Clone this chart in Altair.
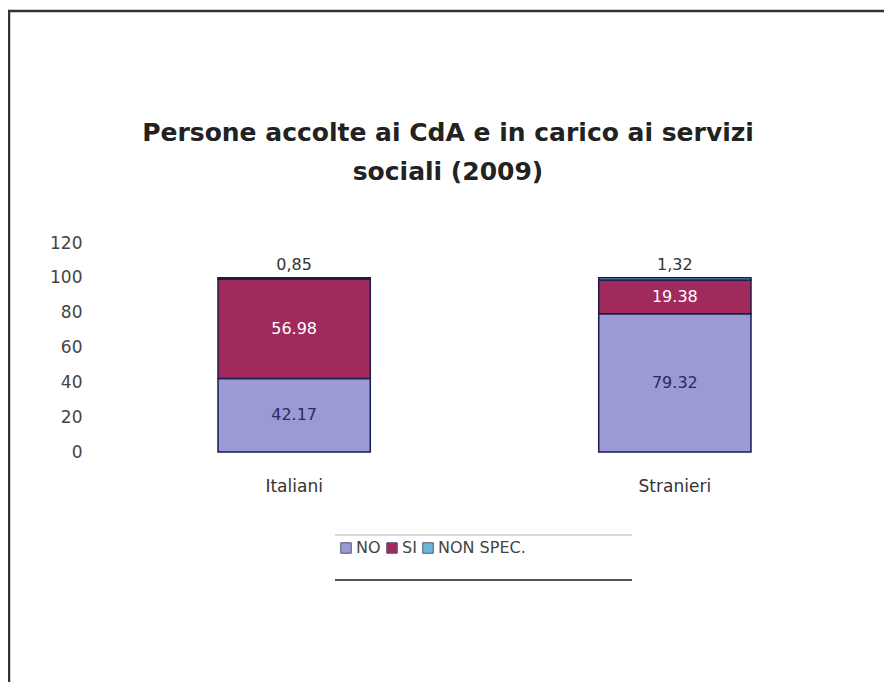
import altair as alt
import pandas as pd

gruppi = ["Italiani", "Italiani", "Italiani", "Stranieri", "Stranieri", "Stranieri"]
categorie = ["NO", "SI", "NON SPEC.", "NO", "SI", "NON SPEC."]
valori = [42.17, 56.98, 0.85, 79.32, 19.38, 1.32]
etichette = ["42.17", "56.98", "0,85", "79.32", "19.38", "1,32"]
ordine = [0, 1, 2, 0, 1, 2]

cat_domain = ["NO", "SI", "NON SPEC."]
cat_colors = ["#9a9ad4", "#a02a5c", "#6cb6dc"]
y_ticks = [0, 20, 40, 60, 80, 100, 120]
titolo = ["Persone accolte ai CdA e in carico ai servizi", "sociali (2009)"]

df = pd.DataFrame({
    "gruppo": gruppi,
    "categoria": categorie,
    "valore": valori,
    "etichetta": etichette,
    "ordine": ordine,
})

FONT = "DejaVu Sans"

base = alt.Chart(df).transform_stack(
    stack="valore", groupby=["gruppo"], as_=["y0", "y1"],
    sort=[alt.SortField("ordine", order="ascending")]
).transform_calculate(mid="(datum.y0 + datum.y1) / 2")

xaxis = alt.Axis(labelAngle=0, domain=False, ticks=False,
                 labelPadding=26, labelFontSize=17, labelColor="#333333",
                 labelFont=FONT)
xscale = alt.Scale(paddingInner=0.6, paddingOuter=0.31)

yaxis = alt.Axis(values=y_ticks, domain=False, ticks=False, grid=False,
                 labelOverlap=False, labelPadding=18, labelFontSize=17,
                 labelColor="#444444", labelFont=FONT)
yscale = alt.Scale(domain=[0, 120], nice=False)

bars = base.mark_bar(stroke="#1c1c4a", strokeWidth=1.5).encode(
    x=alt.X("gruppo:N", title=None, scale=xscale, axis=xaxis),
    y=alt.Y("y0:Q", title=None, scale=yscale, axis=yaxis),
    y2="y1:Q",
    color=alt.Color("categoria:N", title=None,
                    scale=alt.Scale(domain=cat_domain, range=cat_colors),
                    legend=alt.Legend(orient="none", legendX=238, legendY=297,
                                      direction="horizontal", symbolType="square",
                                      symbolSize=110, symbolStrokeColor="#555577",
                                      symbolStrokeWidth=1, labelFontSize=16,
                                      labelColor="#444444", labelFont=FONT,
                                      columnPadding=3, labelOffset=2)),
    order=alt.Order("ordine:Q"),
)

def labels(cat, field, color, dy=0):
    return base.transform_filter(f"datum.categoria == '{cat}'").mark_text(
        fontSize=16, font=FONT, color=color, baseline="middle", dy=dy).encode(
        x=alt.X("gruppo:N", title=None, scale=xscale, axis=xaxis),
        y=alt.Y(f"{field}:Q", title=None, scale=yscale, axis=yaxis),
        text="etichetta:N")

lab_no = labels("NO", "mid", "#2a2a5c")
lab_si = labels("SI", "mid", "#ffffff")
lab_ns = labels("NON SPEC.", "y1", "#333333", dy=-13)

deco = alt.Chart(pd.DataFrame({"k": [0]}))
title1 = deco.mark_text(text=titolo[0], fontSize=25, font=FONT, fontWeight="bold",
                        color="#222222", align="center", baseline="middle").encode(
    x=alt.value(348), y=alt.value(-110))
title2 = deco.mark_text(text=titolo[1], fontSize=25, font=FONT, fontWeight="bold",
                        color="#222222", align="center", baseline="middle").encode(
    x=alt.value(348), y=alt.value(-71))
rule_top = deco.mark_rule(color="#cccccc", strokeWidth=1.5).encode(
    x=alt.value(235), x2=alt.value(532), y=alt.value(292))
rule_bot = deco.mark_rule(color="#555555", strokeWidth=2).encode(
    x=alt.value(235), x2=alt.value(532), y=alt.value(337))
frame_top = deco.mark_rule(color="#333333", strokeWidth=2.5).encode(
    x=alt.value(-92), x2=alt.value(800), y=alt.value(-232))
frame_left = deco.mark_rule(color="#333333", strokeWidth=2.5).encode(
    x=alt.value(-91), y=alt.value(-233), y2=alt.value(440))

chart = alt.layer(bars, lab_no, lab_si, lab_ns, title1, title2, rule_top, rule_bot,
                  frame_top, frame_left).resolve_scale(
    x="shared", y="shared"
).properties(
    width=769, height=209,
    autosize=alt.AutoSizeParams(type="none"),
    padding={"left": 92, "top": 235, "right": 15, "bottom": 230},
    background="white",
).configure_view(stroke=None).configure_axisY(labelOverlap=False)

chart.save("out.html", embed_options={"renderer": "svg", "actions": False})
